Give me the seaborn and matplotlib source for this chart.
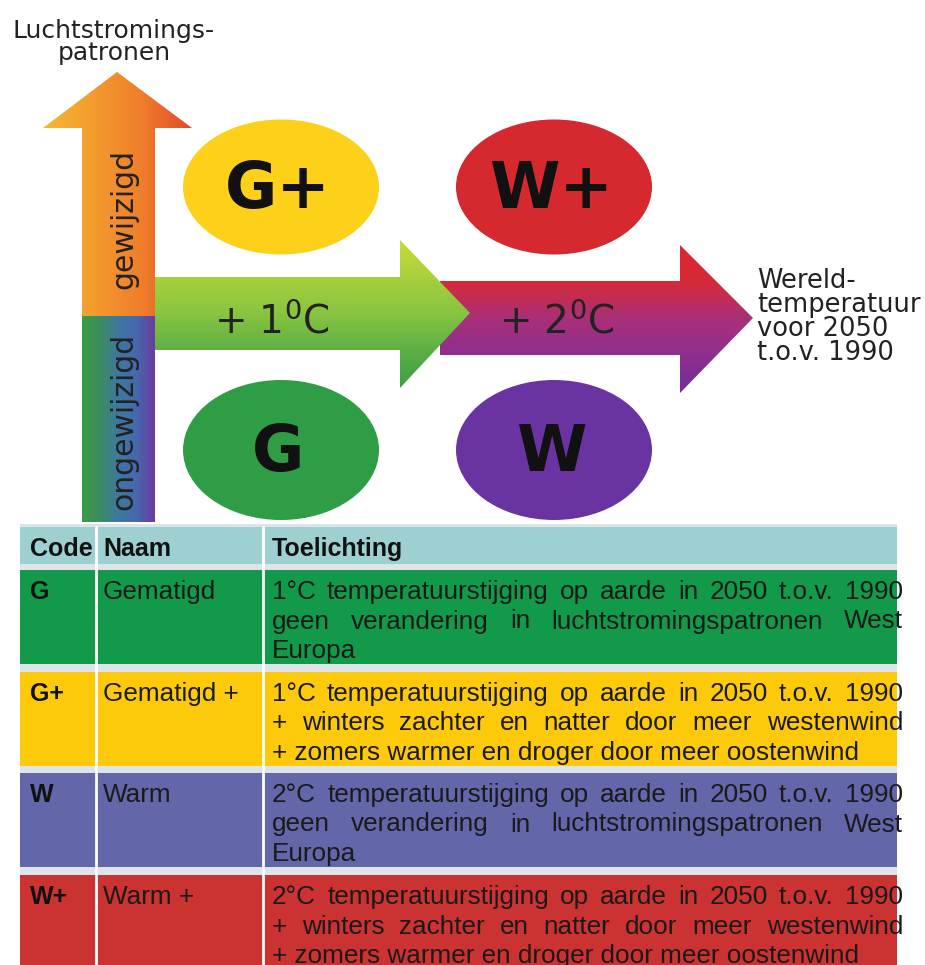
import numpy as np
import matplotlib
matplotlib.use("Agg")
import matplotlib.pyplot as plt
import seaborn as sns
from matplotlib.patches import Ellipse, Rectangle, Polygon

# ─────────────────────────────
# DATA
# ─────────────────────────────
codes = ["G", "G+", "W", "W+"]
names = ["Gematigd", "Gematigd +", "Warm", "Warm +"]
row_colors = ["#12994A", "#FDCA0B", "#6366A8", "#CB3232"]
bubble_colors = {"G+": "#FDD11A", "W+": "#D5282F", "G": "#2F9D45", "W": "#6934A2"}
line_1deg = "1°C temperatuurstijging op aarde in 2050 t.o.v. 1990"
line_2deg = "2°C temperatuurstijging op aarde in 2050 t.o.v. 1990"
line_geen = "geen verandering in luchtstromingspatronen West"
line_winter = "+ winters zachter en natter door meer westenwind"
line_zomer = "+ zomers warmer en droger door meer oostenwind"
descriptions = [
    [line_1deg, line_geen, "Europa"],
    [line_1deg, line_winter, line_zomer],
    [line_2deg, line_geen, "Europa"],
    [line_2deg, line_winter, line_zomer],
]
header = ["Code", "Naam", "Toelichting"]

# ─────────────────────────────
# SETUP
# ─────────────────────────────
sns.set_theme(style="white")
plt.rcParams["font.family"] = ["DejaVu Sans"]

W, H = 925, 965
fig = plt.figure(figsize=(W / 100, H / 100), dpi=100)
ax = fig.add_axes([0, 0, 1, 1])
ax.set_xlim(0, W)
ax.set_ylim(H, 0)
ax.axis("off")


def gradient_shape(points, colors, horizontal=False):
    poly = Polygon(points, closed=True, facecolor="none", edgecolor="none")
    ax.add_patch(poly)
    xs = [p[0] for p in points]
    ys = [p[1] for p in points]
    cmap = sns.blend_palette(colors, as_cmap=True)
    grad = np.linspace(0, 1, 256)
    arr = grad.reshape(1, -1) if horizontal else grad.reshape(-1, 1)
    im = ax.imshow(arr, cmap=cmap, aspect="auto", origin="upper",
                   extent=(min(xs), max(xs), max(ys), min(ys)), zorder=2)
    im.set_clip_path(poly)


# ─────────────────────────────
# DIAGRAM
# ─────────────────────────────
# vertical arrow (luchtstromingspatronen)
gradient_shape([(82, 318), (82, 128), (43, 128), (117, 72), (192, 128),
                (155, 128), (155, 318)],
               ["#F7B935", "#F39C2D", "#EF7D2B", "#E2482A"], horizontal=True)
gradient_shape([(82, 316), (155, 316), (155, 522), (82, 522)],
               ["#3A9C45", "#3C8C62", "#3F77A0", "#4668AE", "#6B3C9E"],
               horizontal=True)
ax.text(124, 219, "gewijzigd", rotation=90, ha="center", va="center",
        fontsize=21.5, color="#222222", zorder=5)
ax.text(124, 421, "ongewijzigd", rotation=90, ha="center", va="center",
        fontsize=21.5, color="#222222", zorder=5)
ax.text(114, 42, "Luchtstromings-\npatronen", ha="center", va="center",
        fontsize=18, linespacing=0.88, color="#222222")

# horizontal arrows (wereldtemperatuur)
gradient_shape([(440, 281), (680, 281), (680, 245), (753, 318), (680, 393),
                (680, 355), (440, 355)],
               ["#E0262B", "#D62A38", "#A8307A", "#8E2F8F", "#6F2E9E"])
gradient_shape([(155, 277), (400, 277), (400, 240), (470, 313), (400, 388),
                (400, 350), (155, 350)],
               ["#CADB3A", "#A8D03C", "#88C441", "#5CAF46", "#3E9F45"])
ax.text(272, 322, r"+ 1$^{0}$C", ha="center", va="center", fontsize=28,
        color="#222222", zorder=5)
ax.text(557, 322, r"+ 2$^{0}$C", ha="center", va="center", fontsize=28,
        color="#222222", zorder=5)
ax.text(757, 317, "Wereld-\ntemperatuur\nvoor 2050\nt.o.v. 1990",
        ha="left", va="center", fontsize=18.5, linespacing=0.9,
        color="#222222")

# scenario bubbles
bubbles = {"G+": (281, 187, 135), "W+": (554, 187, 135),
           "G": (281, 450, 140), "W": (554, 450, 140)}
for code, (cx, cy, eh) in bubbles.items():
    ax.add_patch(Ellipse((cx, cy), 196, eh, facecolor=bubble_colors[code],
                         edgecolor="none", zorder=3))
    ax.text(cx - 3, cy + 3, code, ha="center", va="center", fontsize=46,
            fontweight="bold", color="#111111", zorder=4)

# ─────────────────────────────
# TABLE
# ─────────────────────────────
TFONT = ["Liberation Sans", "DejaVu Sans"]
FS = 18.8
left, right = 20, 897
col_x = [30, 103, 272]
ax.add_patch(Rectangle((left, 524), right - left, H - 524,
                       facecolor="#DDE5E8", edgecolor="none", zorder=1))
ax.add_patch(Rectangle((left, 527), right - left, 37,
                       facecolor="#9FD0D1", edgecolor="none", zorder=2))
for x, txt in zip(col_x, header):
    ax.text(x, 549, txt, ha="left", va="center", fontsize=18,
            fontweight="bold", family=TFONT, color="#111111", zorder=5)

renderer = fig.canvas.get_renderer()
row_tops = [570, 672, 773, 875]
for top, code, name, color, lines in zip(row_tops, codes, names,
                                         row_colors, descriptions):
    rect = Rectangle((left, top), right - left, 94, facecolor=color,
                     edgecolor="none", zorder=2)
    ax.add_patch(rect)
    ax.text(col_x[0], top + 22, code, ha="left", va="center", fontsize=18,
            fontweight="bold", family=TFONT, color="#111111", zorder=5)
    ax.text(col_x[1], top + 22, name, ha="left", va="center", fontsize=FS,
            family=TFONT, color="#1a1a1a", zorder=5)
    for i, line in enumerate(lines):
        y = top + 22 + i * 29.5
        if i == 2:
            ax.text(col_x[2], y, line, ha="left", va="center", fontsize=FS,
                    family=TFONT, color="#1a1a1a", zorder=5)
            continue
        # justified line
        words = line.split()
        items = [ax.text(0, y, w, ha="left", va="center", fontsize=FS,
                         family=TFONT, color="#1a1a1a", zorder=5)
                 for w in words]
        widths = [t.get_window_extent(renderer).width for t in items]
        gap = (903 - col_x[2] - sum(widths)) / (len(words) - 1)
        x = col_x[2]
        for t, wdt in zip(items, widths):
            t.set_x(x)
            t.set_clip_path(rect)
            x += wdt + gap

# column separators
for x in [96, 263]:
    ax.plot([x, x], [527, H], color="white", lw=2, zorder=4)

fig.savefig("out.png", dpi=100)
